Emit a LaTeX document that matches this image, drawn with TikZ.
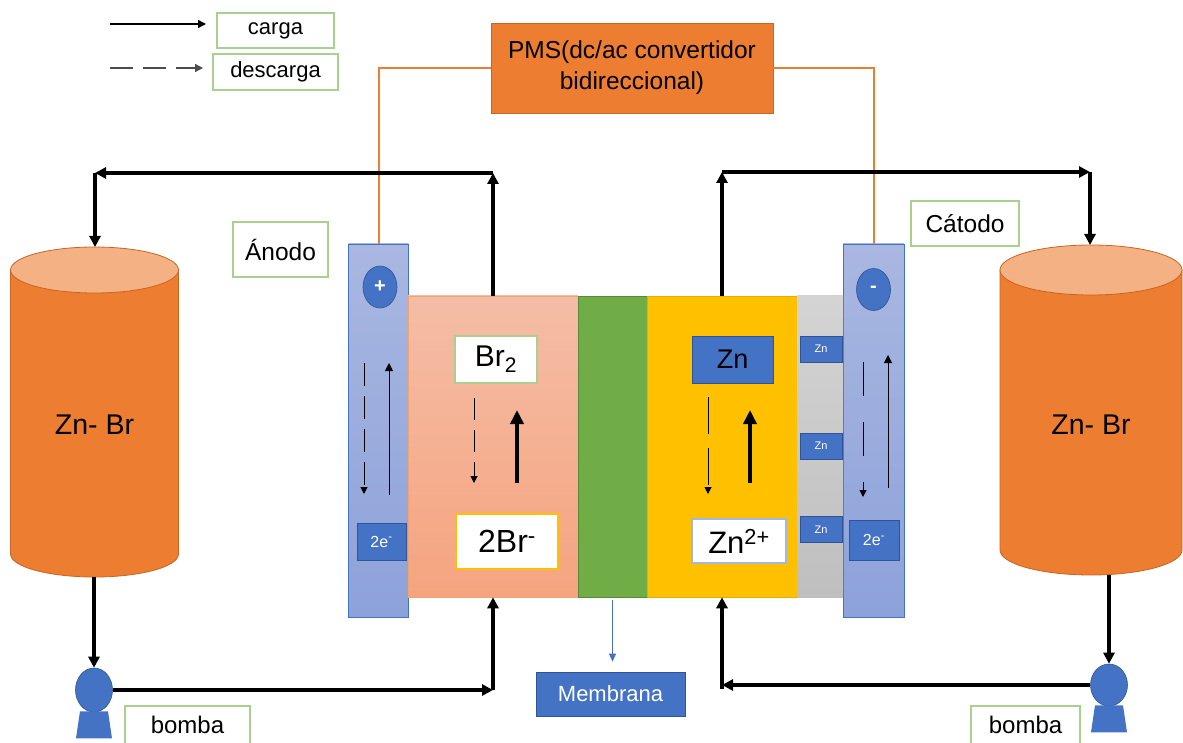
\documentclass[tikz,border=0pt]{standalone}
\usepackage{fontspec}
\setmainfont{Liberation Sans}
\usepackage{tikz}
\usetikzlibrary{arrows.meta,shapes.geometric,calc,positioning}

\definecolor{pmsorange}{HTML}{ED7D31}
\definecolor{tanktop}{HTML}{F4B183}
\definecolor{tankedge}{HTML}{C9651F}
\definecolor{zblue}{HTML}{4472C4}
\definecolor{blueline}{HTML}{2F5597}
\definecolor{elecA}{HTML}{A9B7E1}
\definecolor{elecB}{HTML}{8DA2DA}
\definecolor{brA}{HTML}{F5BDA6}
\definecolor{brB}{HTML}{F5A47F}
\definecolor{membgreen}{HTML}{70AD47}
\definecolor{zyellow}{HTML}{FFC000}
\definecolor{plateA}{HTML}{D4D4D4}
\definecolor{plateB}{HTML}{BFBFBF}
\definecolor{tagline}{HTML}{A9D18E}

\begin{document}
\begin{tikzpicture}[x=1pt,y=-1pt,
  every node/.style={inner sep=0pt},
  tag/.style={draw=tagline,line width=1.2pt,fill=white,font=\fontsize{22}{26}\selectfont},
  bluebox/.style={draw=blueline,line width=0.8pt,fill=zblue},
  elec/.style={draw=zblue,line width=0.8pt,top color=elecA,bottom color=elecB,minimum width=60pt,minimum height=373pt},
  sign/.style={ellipse,fill=zblue,draw=blueline,line width=0.6pt,minimum width=34pt,minimum height=42pt,text=white,font=\bfseries\fontsize{20}{20}\selectfont},
  pump/.style={ellipse,fill=zblue,draw=blueline,line width=0.6pt,minimum width=37pt,minimum height=44pt},
  flow/.style={line width=3.2pt,-{Triangle[length=11pt,width=11pt]}},
  wire/.style={draw=pmsorange,line width=2pt},
  charge/.style={line width=1.3pt,-{Triangle[length=8pt,width=8pt]}},
  discharge/.style={charge,dash pattern=on 23pt off 10pt},
  ionup/.style={line width=4pt,-{Triangle[length=14pt,width=13pt]}}]
\useasboundingbox (0,0) rectangle (1183,743);

% leyenda
\draw[charge] (110,24) -- (206,24);
\draw[discharge,draw=black!70] (110,68) -- (203,68);
\node[tag,minimum width=117pt,minimum height=35pt] (carga) at (275.5,30.5) {carga};
\node[tag,minimum width=125pt,minimum height=36pt] (descarga) at (275.5,72) {descarga};

% convertidor
\node[fill=pmsorange,draw=tankedge,line width=0.6pt,minimum width=282pt,minimum height=90pt,align=center,
  font=\fontsize{24.5}{31}\selectfont] (pms) at (632,68) {PMS(dc/ac convertidor\\bidireccional)};

% tanques
\foreach \cx/\rx/\ry/\yb/\nm in {94.5/84/23/554/L,1091/91/25/550/R}{
  \draw[draw=tankedge,fill=pmsorange,line width=0.8pt] (\cx-\rx,270) -- (\cx-\rx,\yb)
    arc[start angle=180,end angle=360,x radius=\rx pt,y radius=\ry pt] -- (\cx+\rx,270);
  \draw[draw=tankedge,fill=tanktop,line width=0.8pt] (\cx,270) ellipse[x radius=\rx pt,y radius=\ry pt];
  \node[font=\fontsize{28.5}{28.5}\selectfont] (tank\nm) at (\cx,425) {Zn- Br};
}
\coordinate (tankL-in) at (95,247);
\coordinate (tankL-out) at (94,577);
\coordinate (tankR-in) at (1090,245);
\coordinate (tankR-out) at (1109,575);

% celda
\node[elec] (elecL) at (378.5,430.5) {};
\node[elec,minimum width=61pt] (elecR) at (873.5,430.5) {};
\node[draw=pmsorange!70,line width=0.6pt,top color=brA,bottom color=brB,minimum width=170pt,minimum height=301pt] (brside) at (493,446.5) {};
\node[fill=membgreen,draw=membgreen!80!black,line width=0.5pt,minimum width=69pt,minimum height=301pt] (memb) at (612.5,446.5) {};
\node[fill=zyellow,draw=zyellow!90!black,line width=0.5pt,minimum width=150pt,minimum height=301pt] (znside) at (722,446.5) {};
\node[top color=plateA,bottom color=plateB,minimum width=46pt,minimum height=301pt] (plate) at (820,446.5) {};
\node[sign] (plus) at (380,287) {+};
\node[sign] (minus) at (873.5,289.5) {-};

\node[tag,minimum width=82pt,minimum height=47pt,font=\fontsize{30}{30}\selectfont] (br2) at (496,359.5) {Br\textsubscript{2}};
\node[tag,draw=zyellow,minimum width=102pt,minimum height=55pt,font=\fontsize{32}{32}\selectfont] (brion) at (507,541.5) {2Br\textsuperscript{-}};
\node[bluebox,minimum width=81pt,minimum height=47pt,font=\fontsize{27}{27}\selectfont] (zn) at (732.5,359.5) {Zn};
\node[tag,draw=zblue!50,minimum width=94pt,minimum height=44pt,font=\fontsize{31}{31}\selectfont] (znion) at (739,541) {Zn\textsuperscript{2+}};
\foreach \y/\i in {349/1,446/2,529.5/3}
  \node[bluebox,minimum width=42pt,minimum height=26pt,text=white,font=\fontsize{11}{11}\selectfont] (zn\i) at (821,\y) {Zn};
\node[bluebox,minimum width=49pt,minimum height=37pt,text=white,font=\fontsize{16}{16}\selectfont] (eL) at (381.5,541.5) {2e\textsuperscript{-}};
\node[bluebox,minimum width=50pt,minimum height=40pt,text=white,font=\fontsize{16}{16}\selectfont] (eR) at (874,540) {2e\textsuperscript{-}};

% flechas dentro de la celda
\draw[discharge,line width=1pt,-{Triangle[length=7pt,width=7pt]}] (364,363) -- (364,494);
\draw[charge,line width=1pt] (389,495) -- (389,363);
\draw[discharge,line width=1pt,dash pattern=on 22pt off 10pt,-{Triangle[length=7pt,width=7pt]}] (474,398) -- (474,483);
\draw[ionup] (517,483) -- (517,410);
\draw[discharge,line width=1pt,dash pattern=on 37pt off 14pt,-{Triangle[length=7pt,width=7pt]}] (708,397) -- (708,494);
\draw[ionup] (750,483) -- (750,410);
\draw[discharge,line width=1pt,dash pattern=on 34pt off 26pt,-{Triangle[length=7pt,width=7pt]}] (863,362) -- (863,497);
\draw[charge,line width=1pt] (888,488) -- (888,355);

% cables al convertidor
\draw[wire] (pms.west) -| (elecL.north);
\draw[wire] (pms.east) -| (elecR.north);

% bombas
\node[pump] (pumpL) at (94,690) {};
\node[pump,minimum height=42pt] (pumpR) at (1109,685) {};
\foreach \p in {pumpL,pumpR}
  \fill[zblue] ($(\p.south)+(-14,-1)$) -- ($(\p.south)+(14,-1)$) -- ($(\p.south)+(18,26)$) -- ($(\p.south)+(-18,26)$) -- cycle;
\node[tag,font=\fontsize{24}{24}\selectfont,minimum width=125pt,minimum height=38pt] (bombaL) at (187.5,725) {bomba};
\node[tag,font=\fontsize{24}{24}\selectfont,minimum width=109pt,minimum height=38pt] (bombaR) at (1025.5,725) {bomba};

% circuito del electrolito
\coordinate (retL) at (493,173);
\coordinate (inL) at (95,173);
\coordinate (suppL) at (493,690);
\coordinate (retR) at (722,172);
\coordinate (inR) at (1090,172);
\coordinate (suppR) at (722,685);
\draw[flow] (brside.north) -- (retL);
\draw[flow] (retL) -- (inL);
\draw[flow] (inL) -- (tankL-in);
\draw[flow] (tankL-out) -- (pumpL.north);
\draw[flow] (pumpL.east) -- (suppL);
\draw[flow] (suppL) -- (brside.south);
\draw[flow] (znside.north) -- (retR);
\draw[flow] (retR) -- (inR);
\draw[flow] (inR) -- (tankR-in);
\draw[flow] (tankR-out) -- (pumpR.north);
\draw[flow] (pumpR.west) -- (suppR);
\draw[flow] ($(suppR)+(0,4)$) -- (znside.south);

% etiquetas
\node[tag,font=\fontsize{24.5}{24.5}\selectfont,minimum width=95pt,minimum height=55pt] (anodo) at (280.5,249.5) {Ánodo};
\node[tag,font=\fontsize{24.5}{24.5}\selectfont,minimum width=108pt,minimum height=45pt] (catodo) at (965,223.5) {Cátodo};
\node[bluebox,text=white,minimum width=149pt,minimum height=44pt,font=\fontsize{22}{22}\selectfont] (membrana) at (610.5,694) {Membrana};
\draw[-{Triangle[length=8pt,width=7pt]},draw=zblue,line width=1pt,shorten <=3pt,shorten >=10pt] (memb.south) -- (memb.south |- membrana.north);
\end{tikzpicture}
\end{document}
